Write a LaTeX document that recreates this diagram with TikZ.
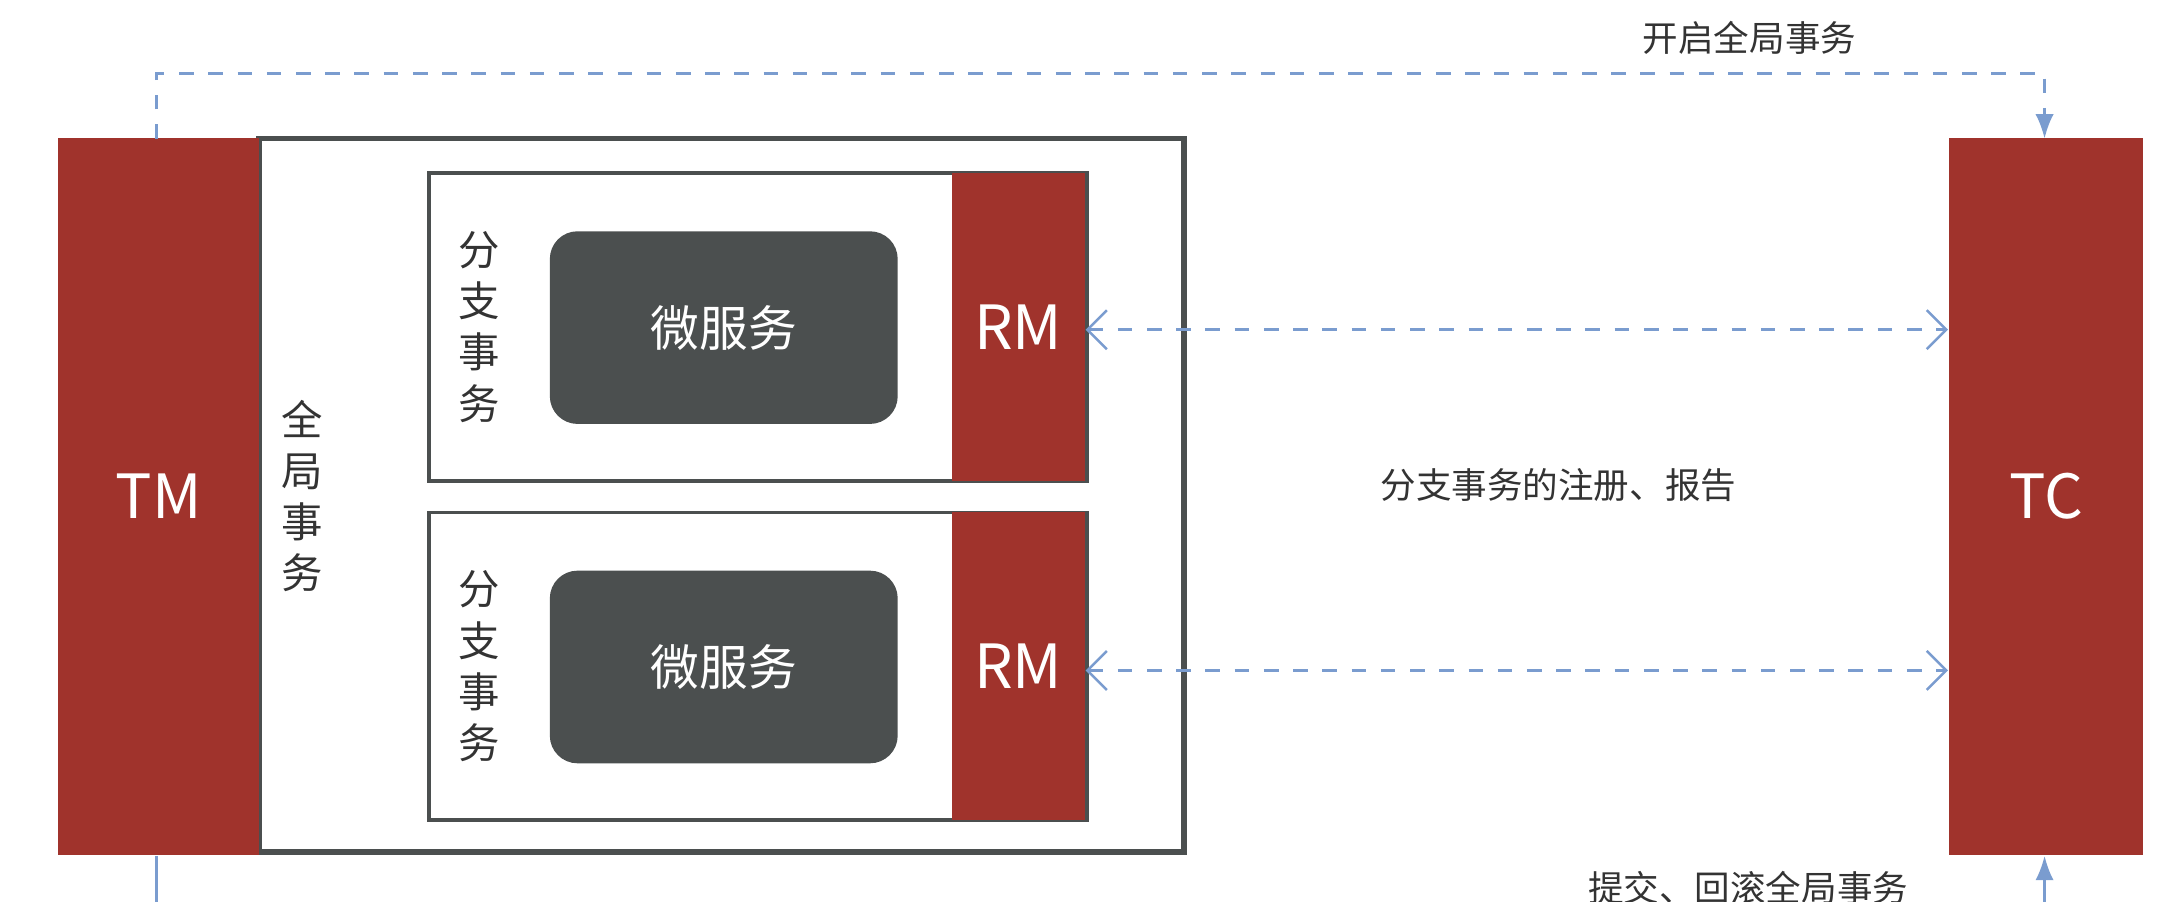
\documentclass[tikz,border=0pt]{standalone}
\usepackage{fontspec}
\setmainfont{Noto Sans CJK SC}
\usetikzlibrary{arrows.meta,positioning}
\definecolor{brick}{HTML}{A0332C}
\definecolor{slate}{HTML}{4B4F4F}
\definecolor{link}{HTML}{7A9CCF}
\tikzset{
  bar/.style={fill=brick, draw=none, text=white, font=\fontsize{12.5pt}{14pt}\selectfont},
  svc/.style={fill=slate, draw=none, rounded corners=0.2cm, text=white, font=\fontsize{10pt}{12pt}\selectfont},
  vtext/.style={align=center, font=\fontsize{8.5pt}{10.5pt}\selectfont, text=black!80},
  flow/.style={dashed, link, line width=0.5pt},
  note/.style={font=\fontsize{7.3pt}{9pt}\selectfont, text=black!80}
}
\begin{document}
\begin{tikzpicture}[x=0.01cm,y=-0.01cm]
    \useasboundingbox (0,0) rectangle (1568,651);
    % Outer global transaction box
    \draw[slate, line width=1.2pt] (187,100) rectangle (855,615);
    % TM / TC
    \node[bar, minimum width=1.45cm, minimum height=5.17cm] (tm) at (114.5,358.5) {TM};
    \node[bar, minimum width=1.40cm, minimum height=5.17cm] (tc) at (1477,358.5) {TC};
    \node[vtext] (global) at (218,358) {全\\局\\事\\务};

    % Branch 1
    \draw[slate, line width=0.8pt] (310,125) rectangle (785,347);
    \node[bar, minimum width=0.96cm, minimum height=2.22cm] (rm1) at (735,236) {RM};
    \node[svc, minimum width=2.51cm, minimum height=1.39cm] (svc1) at (522.5,236.5) {微服务};
    \node[vtext] (br1) at (346,236) {分\\支\\事\\务};

    % Branch 2
    \draw[slate, line width=0.8pt] (310,370) rectangle (785,592);
    \node[bar, minimum width=0.96cm, minimum height=2.22cm] (rm2) at (735,481) {RM};
    \node[svc, minimum width=2.51cm, minimum height=1.39cm] (svc2) at (522.5,481.5) {微服务};
    \node[vtext] (br2) at (346,481) {分\\支\\事\\务};

    % Connectors
    \coordinate (tmtop) at (113,100);
    \coordinate (tctop) at (1476,100);
    \draw[flow, -{Latex[length=5pt]}] (tmtop) |- (1476,53) -- (tctop);
    \node[note] (begin) at (1263,27) {开启全局事务};
    \draw[flow, {Straight Barb[length=4pt,width=8pt]}-{Straight Barb[length=4pt,width=8pt]}] (rm1.east |- 0,238) -- (tc.west |- 0,238);
    \draw[flow, {Straight Barb[length=4pt,width=8pt]}-{Straight Barb[length=4pt,width=8pt]}] (rm2.east |- 0,484) -- (tc.west |- 0,484);
    \node[note] (report) at (1125,350) {分支事务的注册、报告};
    \coordinate (tmdown) at (113,660);
    \coordinate (tcup) at (1476,660);
    \draw[link, line width=0.5pt] (tm.south -| tmtop) -- (tmdown);
    \draw[link, line width=0.5pt, -{Latex[length=5pt]}] (tcup) -- (tc.south -| tctop);
    \node[note] (commit) at (1262,641) {提交、回滚全局事务};
\end{tikzpicture}
\end{document}
